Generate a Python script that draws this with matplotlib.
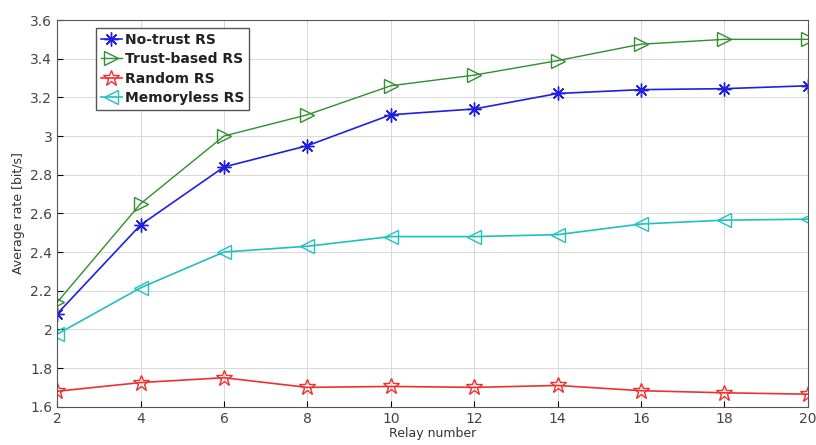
import numpy as np
import matplotlib.pyplot as plt

# Data
relays = [2, 4, 6, 8, 10, 12, 14, 16, 18, 20]
no_trust = [2.08, 2.54, 2.84, 2.95, 3.11, 3.14, 3.22, 3.24, 3.245, 3.26]
trust_based = [2.14, 2.65, 3.00, 3.11, 3.26, 3.315, 3.39, 3.475, 3.50, 3.50]
random_rs = [1.68, 1.725, 1.75, 1.70, 1.705, 1.70, 1.71, 1.683, 1.672, 1.665]
memoryless = [1.975, 2.215, 2.40, 2.43, 2.48, 2.48, 2.49, 2.545, 2.565, 2.57]

fig = plt.figure(figsize=(8.16, 4.45), dpi=100)
ax = fig.add_axes([0.070, 0.086, 0.920, 0.869])

ax.plot(relays, no_trust, color='#2020e0', marker=(8, 2, 0), markersize=10,
        markeredgewidth=1.0, linewidth=1.2, label='No-trust RS')
ax.plot(relays, trust_based, color='#2f8f2f', marker='>', markersize=10.5,
        markerfacecolor='none', markeredgewidth=1.0, linewidth=1.0, label='Trust-based RS')
ax.plot(relays, random_rs, color='#f03030', marker='*', markersize=12,
        markerfacecolor='none', markeredgewidth=1.0, linewidth=1.2, label='Random RS')
ax.plot(relays, memoryless, color='#20c0c0', marker='<', markersize=10.5,
        markerfacecolor='none', markeredgewidth=1.0, linewidth=1.2, label='Memoryless RS')

ax.set_xlim(2, 20)
ax.set_ylim(1.6, 3.6)
ax.set_xticks(relays)
ax.set_yticks(np.arange(1.6, 3.61, 0.2))
ax.set_yticklabels(['1.6', '1.8', '2', '2.2', '2.4', '2.6', '2.8', '3', '3.2', '3.4', '3.6'])
ax.grid(True, color='#d8d8d8', linewidth=0.7)
ax.tick_params(direction='in', labelsize=10, labelcolor='#444444', length=4)
for s in ax.spines.values():
    s.set_color('#555555')
    s.set_linewidth(0.8)

ax.set_xlabel('Relay number', fontsize=9, color='#333333', labelpad=1)
ax.set_ylabel('Average rate [bit/s]', fontsize=9, color='#333333', labelpad=4)

leg = ax.legend(loc='upper left', bbox_to_anchor=(0.052, 0.98), fancybox=False,
                framealpha=1, edgecolor='#555555', fontsize=10, borderpad=0.35,
                labelspacing=0.4, handlelength=1.5, handletextpad=0.2, borderaxespad=0)
for t in leg.get_texts():
    t.set_fontweight('bold')
    t.set_color('#222222')

fig.savefig('out.png', dpi=100)
